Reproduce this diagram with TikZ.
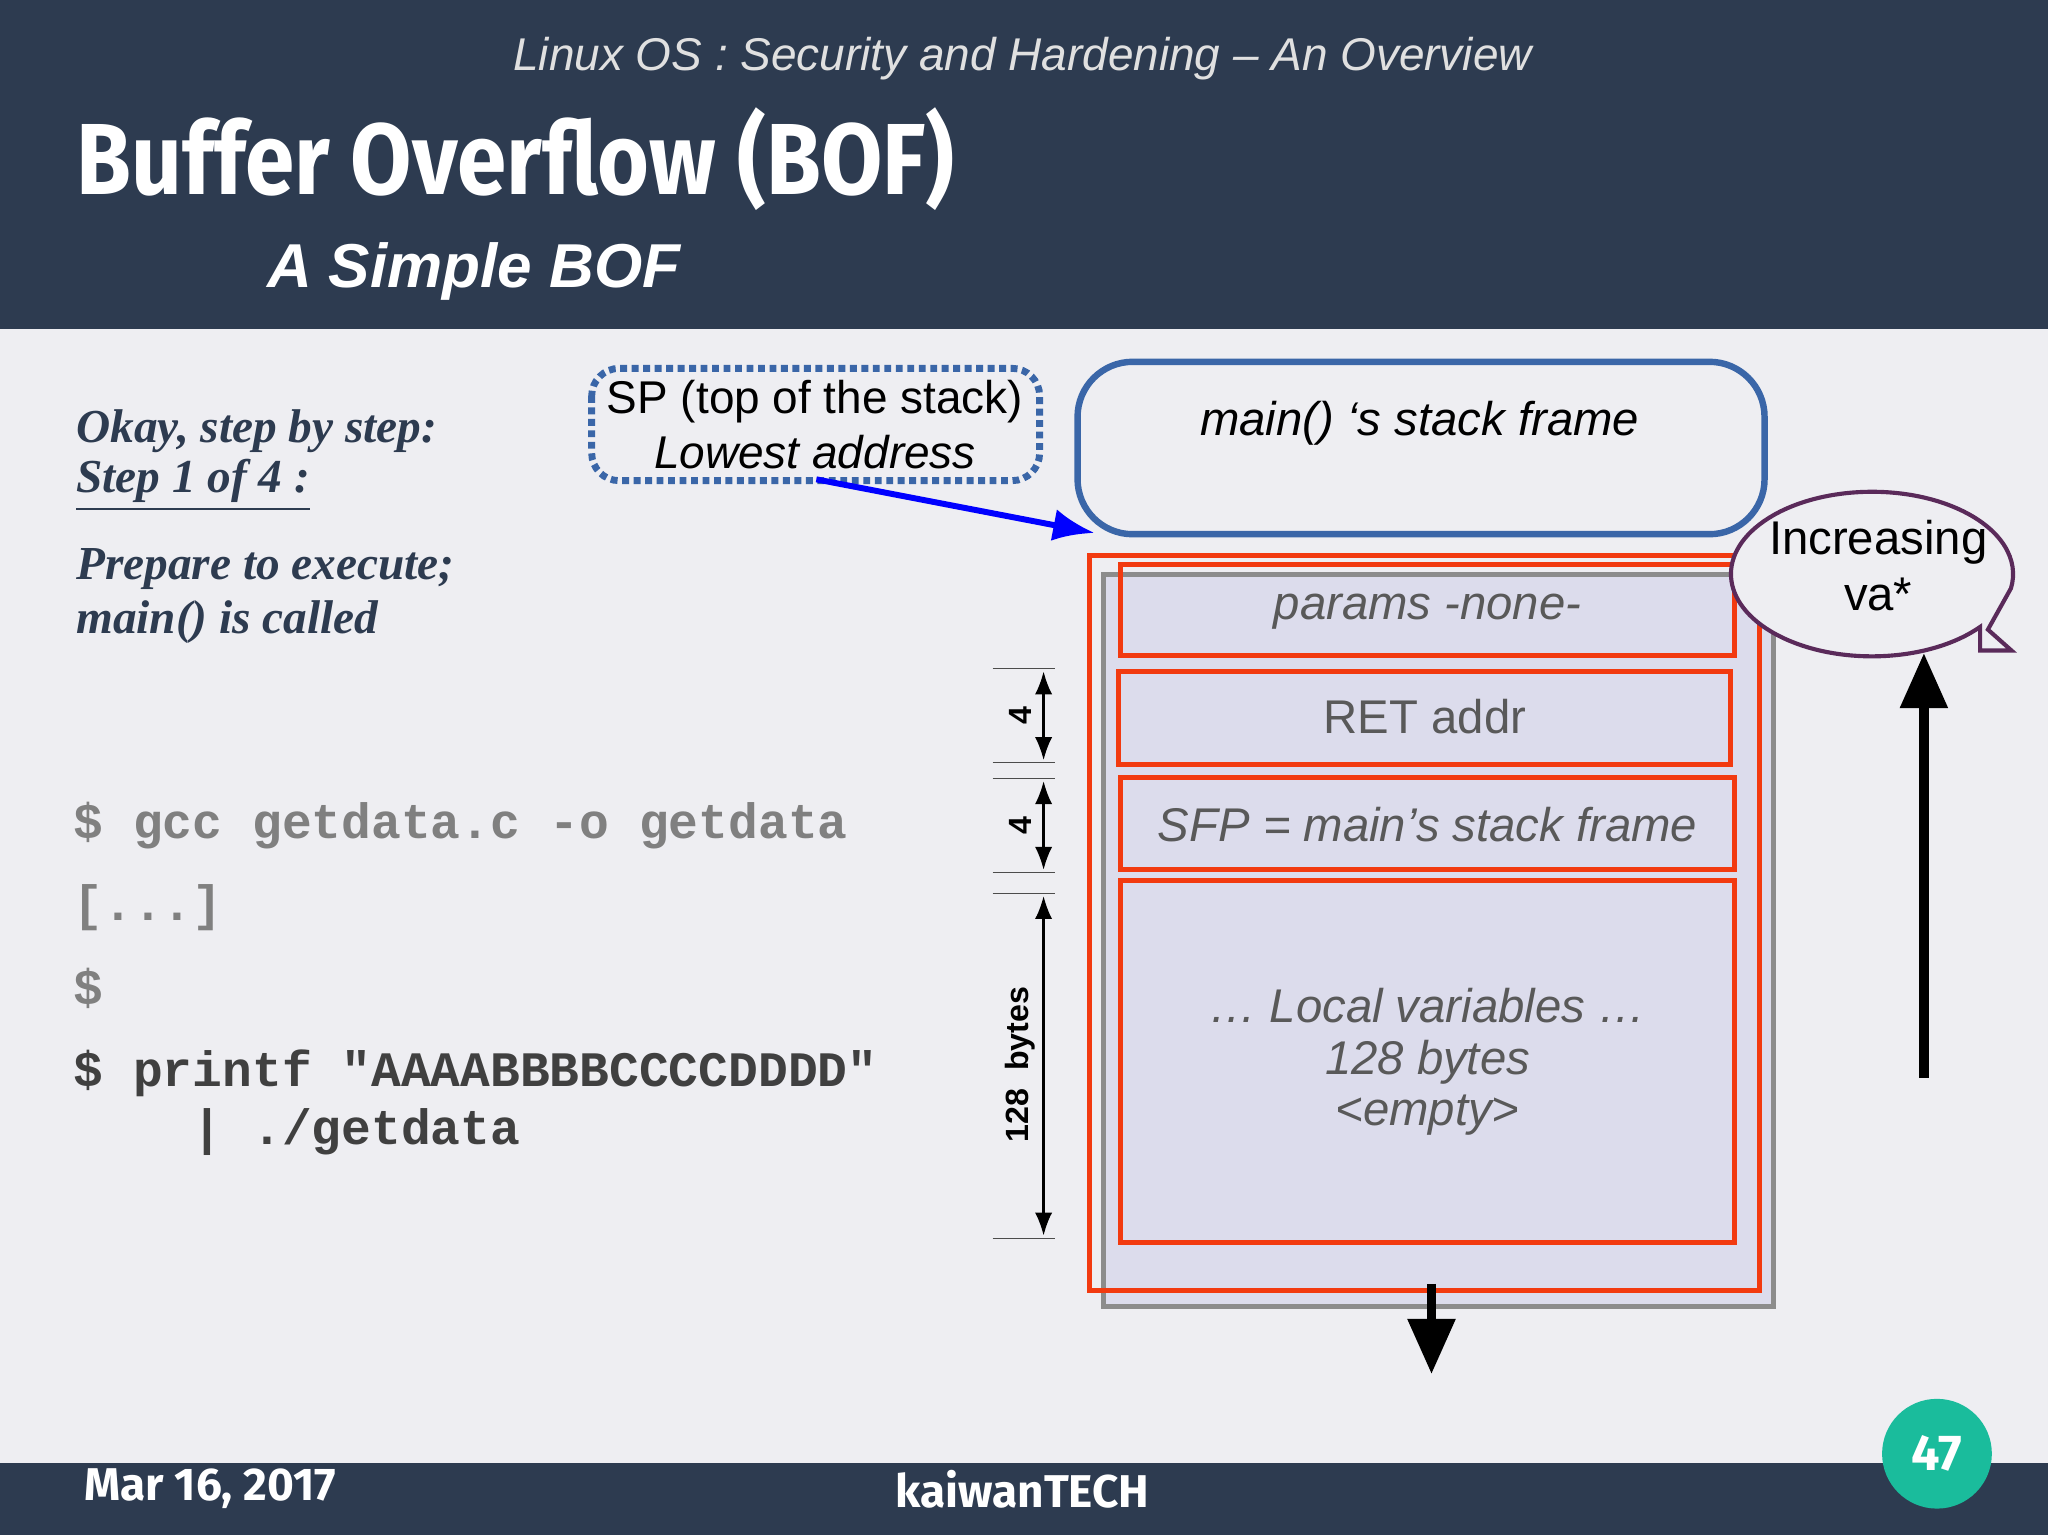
\documentclass[tikz,border=0pt]{standalone}
\usepackage{fontspec}
\setmainfont{Liberation Sans}
\newfontfamily\monof{Liberation Mono}
\newfontfamily\headf{Fira Sans}
\newfontfamily\slabf{Liberation Serif}
\usetikzlibrary{arrows.meta}
\definecolor{navy}{HTML}{2D3B50}
\definecolor{bgc}{HTML}{EEEEF2}
\definecolor{redb}{HTML}{F23A10}
\definecolor{blueb}{HTML}{3A66A8}
\definecolor{fillb}{HTML}{DCDCEC}
\definecolor{teal}{HTML}{1ABC9C}
\definecolor{purp}{HTML}{5A2A5A}
\tikzset{
 redbox/.style={draw=redb,line width=1.1pt},
 lbl/.style={font=\fontsize{10.3}{12}\selectfont\itshape,text=black!65},
 codeg/.style={anchor=west,font=\monof\bfseries\fontsize{10.8}{13}\selectfont,text=black!50},
 coded/.style={anchor=west,font=\monof\bfseries\fontsize{10.8}{13}\selectfont,text=black!75},
 slab/.style={anchor=west,font=\slabf\bfseries\itshape\fontsize{10.3}{12}\selectfont,text=navy},
 dim/.style={line width=0.3pt,black!70},
}
\begin{document}
\begin{tikzpicture}[x=0.01cm,y=-0.01cm]
\useasboundingbox (0,0) rectangle (1568,1175);
\fill[bgc] (0,0) rectangle (1568,1175);
\fill[navy] (0,0) rectangle (1568,252);
\fill[navy] (0,1120) rectangle (1568,1175);
\node (sub) at (783,45) {\fontsize{10}{12}\selectfont\itshape\color{black!12}Linux OS : Security and Hardening -- An Overview};
\node[anchor=west,xscale=0.88] (title) at (48,122) {\headf\bfseries\fontsize{22}{26}\selectfont\color{white}Buffer Overflow (BOF)};
\node[anchor=west] (stitle) at (192,208) {\bfseries\itshape\fontsize{13.5}{16}\selectfont\color{white}A Simple BOF};
% left text
\node[slab] (t1) at (46,330) {Okay, step by step:};
\node[slab] (t2) at (46,372) {\underline{Step 1 of 4 :}};
\node[slab] (t3) at (46,436) {Prepare to execute;};
\node[slab] (t4) at (46,476) {main() is called};
\node[codeg] (c1) at (44,632) {\$ gcc getdata.c -o getdata};
\node[codeg] (c2) at (44,695) {[...]};
\node[codeg] (c3) at (44,757) {\$};
\node[coded] (c4) at (44,822) {\$ printf "AAAABBBBCCCCDDDD"};
\node[coded] (c5) at (44,867) {\ \ \ \ | ./getdata};
% SP box
\draw[blueb,densely dotted,line width=1.5pt,rounded corners=6pt] (453,282) rectangle (796,368);
\node[align=center,font=\fontsize{10}{12}\selectfont] (sp) at (624,325) {SP (top of the stack)\\\itshape Lowest address};
% main frame
\draw[blueb,line width=1.4pt,rounded corners=12pt] (825,277) rectangle (1351,409);
\node (mf) at (1087,324) {\fontsize{10.3}{12}\selectfont\itshape main() `s stack frame};
\coordinate (spb) at (625,367);
\coordinate (mfl) at (838,408);
\draw[blue,line width=1.3pt,-{Latex[length=9pt,width=7pt]}] (spb) -- (mfl);
% stack
\draw[black!45,fill=fillb,line width=1.1pt] (845,440) rectangle (1358,1000);
\draw[redbox] (834,425) rectangle (1347,988);
\draw[redbox] (858,432) rectangle (1328,502);
\draw[redbox] (856,514) rectangle (1325,585);
\draw[redbox] (858,595) rectangle (1328,666);
\draw[redbox] (858,674) rectangle (1328,951);
\node[lbl] (p) at (1093,468) {params -none-};
\node[lbl,font=\fontsize{10.3}{12}\selectfont] (r) at (1091,549) {RET addr};
\node[lbl] (s) at (1093,631) {SFP = main's stack frame};
\node[lbl,align=center,font=\fontsize{10.3}{11.2}\selectfont\itshape] (l) at (1093,813) {\dots{} Local variables \dots\\128 bytes\\<empty>};
% dims
\foreach \y in {512,584,596,668,684,948} \draw[dim] (760,\y) -- (808,\y);
\draw[line width=0.5pt,{Latex[length=5pt]}-{Latex[length=5pt]}] (799,514) -- (799,582);
\draw[line width=0.5pt,{Latex[length=5pt]}-{Latex[length=5pt]}] (799,598) -- (799,666);
\draw[line width=0.5pt,{Latex[length=5pt]}-{Latex[length=5pt]}] (799,686) -- (799,946);
\node[rotate=90,font=\bfseries\fontsize{7}{9}\selectfont] (d1) at (781,548) {4};
\node[rotate=90,font=\bfseries\fontsize{7}{9}\selectfont] (d2) at (781,632) {4};
\node[rotate=90,font=\bfseries\fontsize{7}{9}\selectfont] (d3) at (781,815) {128\ \ bytes};
% bubble
\draw[purp,line width=0.9pt,fill=bgc] (1516,480) arc[start angle=40,end angle=370,x radius=108,y radius=63] -- (1522,482) -- (1540,498) -- (1516,498) -- cycle;
\node[align=center,font=\fontsize{10.3}{12}\selectfont] (inc) at (1438,433) {Increasing\\va*};
\coordinate (ua) at (1473,825);
\coordinate (ub) at (1473,500);
\draw[line width=2pt,-{Triangle[length=12pt,width=10pt]}] (ua) -- (ub);
\coordinate (da) at (1096,983);
\coordinate (db) at (1096,1052);
\draw[line width=2pt,-{Triangle[length=12pt,width=10pt]}] (da) -- (db);
% footer
\node[anchor=west] (date) at (52,1140) {\headf\bfseries\fontsize{10}{12}\selectfont\color{white}Mar 16, 2017};
\node (kt) at (783,1140) {\headf\bfseries\fontsize{10}{12}\selectfont\color{white}kaiwanTECH};
\node[circle,fill=teal,inner sep=0pt,minimum size=0.84cm] (pg) at (1483,1113) {\headf\bfseries\fontsize{11}{13}\selectfont\color{white}47};
\end{tikzpicture}
\end{document}
